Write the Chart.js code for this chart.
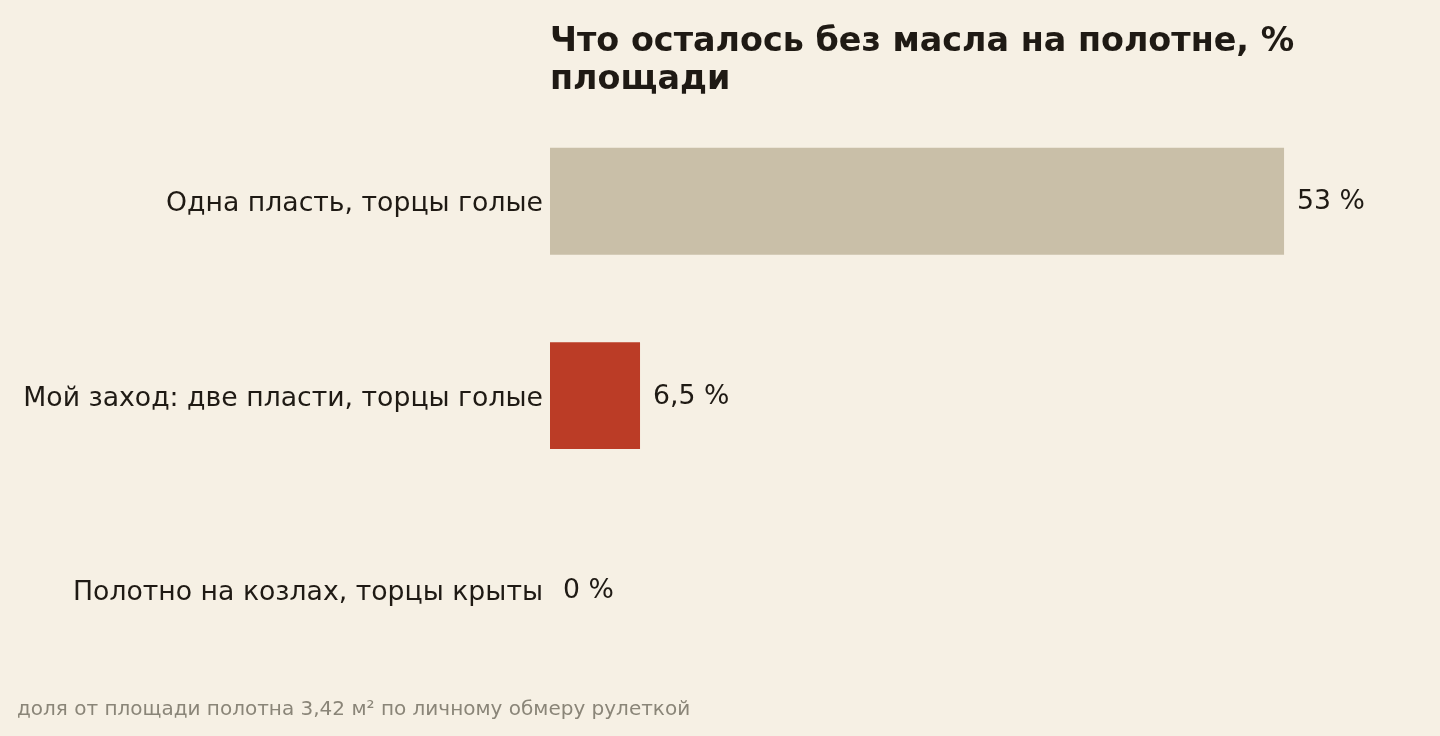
<!DOCTYPE html>
<html>
<head>
<meta charset="utf-8">
<script src="https://cdn.jsdelivr.net/npm/chart.js@4.4.1/dist/chart.umd.min.js"></script>
<style>
html,body{margin:0;padding:0;background:#f6f0e4;}
#wrap{width:1440px;height:736px;position:relative;}
</style>
</head>
<body>
<div id="wrap"><canvas id="c"></canvas></div>
<script>
const categories = ["Одна пласть, торцы голые", "Мой заход: две пласти, торцы голые", "Полотно на козлах, торцы крыты"];
const values = [53, 6.5, 0];
const valueLabels = ["53 %", "6,5 %", "0 %"];
const barColors = ["#c9bfa8", "#bb3c26", "#c9bfa8"];
const titleLines = ["Что осталось без масла на полотне, %", "площади"];
const footnote = "доля от площади полотна 3,42 м² по личному обмеру рулеткой";

const FONT = "'DejaVu Sans', sans-serif";

const valueLabelPlugin = {
  id: 'valueLabels',
  afterDatasetsDraw(chart) {
    const ctx = chart.ctx;
    const meta = chart.getDatasetMeta(0);
    ctx.save();
    ctx.font = "26.7px " + FONT;
    ctx.fillStyle = "#1f1a14";
    ctx.textAlign = "left";
    ctx.textBaseline = "middle";
    meta.data.forEach((bar, i) => {
      ctx.fillText(valueLabels[i], bar.x + 13, bar.y + 1);
    });
    ctx.restore();
  }
};

const bgPlugin = {
  id: 'bg',
  beforeDraw(chart) {
    const ctx = chart.ctx;
    ctx.save();
    ctx.fillStyle = "#f6f0e4";
    ctx.fillRect(0, 0, chart.width, chart.height);
    ctx.restore();
  }
};

new Chart(document.getElementById('c'), {
  type: 'bar',
  data: {
    labels: categories,
    datasets: [{
      data: values,
      backgroundColor: barColors,
      borderWidth: 0,
      barPercentage: 0.55,
      categoryPercentage: 1.0
    }]
  },
  options: {
    indexAxis: 'y',
    responsive: true,
    maintainAspectRatio: false,
    animation: false,
    layout: { padding: { left: 17, right: 59, top: 0, bottom: 0 } },
    scales: {
      x: {
        display: false,
        min: 0,
        max: 60
      },
      y: {
        grid: { display: false, drawTicks: false },
        border: { display: false },
        ticks: {
          padding: 7,
          labelOffset: 3,
          color: "#1f1a14",
          font: { family: FONT, size: 26.7 }
        },
        afterFit(scale) { scale.width = 533; }
      }
    },
    plugins: {
      legend: { display: false },
      tooltip: { enabled: false },
      title: {
        display: true,
        text: titleLines,
        align: 'start',
        fullSize: false,
        color: "#1f1a14",
        font: { family: FONT, size: 33.4, weight: 'bold', lineHeight: 1.14 },
        padding: { top: 23, bottom: 5 }
      },
      subtitle: {
        display: true,
        position: 'bottom',
        text: footnote,
        align: 'start',
        fullSize: true,
        color: "#8a8578",
        font: { family: FONT, size: 20, lineHeight: 1.2 },
        padding: { top: 11, bottom: 14 }
      }
    }
  },
  plugins: [bgPlugin, valueLabelPlugin]
});
</script>
</body>
</html>
